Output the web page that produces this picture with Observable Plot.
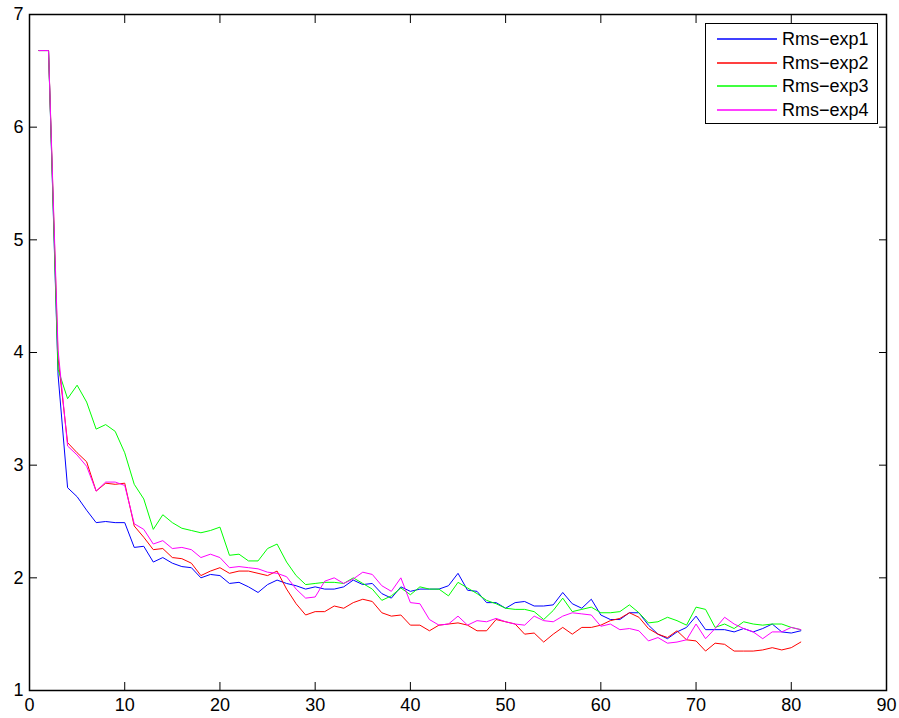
<!DOCTYPE html>
<html>
<head>
<meta charset="utf-8">
<script src="https://cdn.jsdelivr.net/npm/d3@7"></script>
<script src="https://cdn.jsdelivr.net/npm/@observablehq/plot@0.6"></script>
<style>
  body { margin: 0; background: #fff; font-family: "Liberation Sans", Arial, sans-serif; }
  #wrap { position: relative; width: 899px; height: 718px; }
  #legend { position: absolute; left: 705px; top: 23px; width: 173px; height: 101px;
            border: 1px solid #000; background: #fff; box-sizing: border-box; }
  #legend svg { position: absolute; left: 0; top: 0; }
  .lb { position: absolute; left: 76px; font-size: 18px; line-height: 20px; color: #000; white-space: nowrap; }
</style>
</head>
<body>
<div id="wrap"><div id="chart"></div><div id="legend"></div></div>
<script>
const seriesNames = ["Rms−exp1", "Rms−exp2", "Rms−exp3", "Rms−exp4"];
const seriesColors = ["#0000ff", "#ff0000", "#00ff00", "#ff00ff"];
const iterations = d3.range(1, 82);
const xTicks = [0, 10, 20, 30, 40, 50, 60, 70, 80, 90];
const yTicks = [1, 2, 3, 4, 5, 6, 7];

const exp1 = [6.68, 6.68, 3.80, 2.80, 2.72, 2.60, 2.49, 2.50, 2.49, 2.49,
  2.27, 2.28, 2.14, 2.18, 2.13, 2.10, 2.09, 2.00, 2.03, 2.02,
  1.95, 1.96, 1.92, 1.87, 1.94, 1.98, 1.95, 1.93, 1.90, 1.92,
  1.90, 1.90, 1.92, 1.98, 1.94, 1.95, 1.86, 1.82, 1.92, 1.88,
  1.90, 1.90, 1.90, 1.93, 2.04, 1.89, 1.88, 1.78, 1.78, 1.73,
  1.78, 1.79, 1.75, 1.75, 1.76, 1.87, 1.77, 1.73, 1.81, 1.67,
  1.63, 1.63, 1.69, 1.69, 1.58, 1.50, 1.46, 1.52, 1.56, 1.66,
  1.54, 1.54, 1.54, 1.52, 1.55, 1.52, 1.55, 1.59, 1.52, 1.51, 1.53];
const exp2 = [6.68, 6.68, 3.95, 3.20, 3.11, 3.03, 2.77, 2.84, 2.83, 2.84,
  2.46, 2.36, 2.25, 2.26, 2.18, 2.17, 2.13, 2.02, 2.06, 2.09,
  2.04, 2.06, 2.06, 2.04, 2.02, 2.06, 1.90, 1.77, 1.67, 1.70,
  1.70, 1.75, 1.73, 1.78, 1.81, 1.79, 1.69, 1.66, 1.67, 1.58,
  1.58, 1.53, 1.58, 1.59, 1.60, 1.58, 1.53, 1.53, 1.63, 1.61,
  1.59, 1.50, 1.51, 1.43, 1.50, 1.56, 1.50, 1.56, 1.56, 1.58,
  1.62, 1.64, 1.69, 1.65, 1.55, 1.50, 1.47, 1.53, 1.45, 1.44,
  1.35, 1.42, 1.41, 1.35, 1.35, 1.35, 1.36, 1.38, 1.36, 1.38, 1.43];
const exp3 = [6.68, 6.68, 3.85, 3.59, 3.71, 3.56, 3.32, 3.36, 3.30, 3.11,
  2.83, 2.70, 2.43, 2.56, 2.49, 2.44, 2.42, 2.40, 2.42, 2.45,
  2.20, 2.21, 2.15, 2.15, 2.26, 2.30, 2.14, 2.02, 1.94, 1.95,
  1.96, 1.96, 1.95, 2.00, 1.95, 1.90, 1.80, 1.84, 1.91, 1.85,
  1.92, 1.90, 1.90, 1.84, 1.96, 1.91, 1.86, 1.80, 1.77, 1.73,
  1.72, 1.72, 1.70, 1.63, 1.71, 1.82, 1.70, 1.72, 1.74, 1.69,
  1.69, 1.70, 1.76, 1.69, 1.60, 1.61, 1.65, 1.62, 1.58, 1.74,
  1.72, 1.56, 1.59, 1.55, 1.61, 1.59, 1.58, 1.59, 1.59, 1.56, 1.54];
const exp4 = [6.68, 6.68, 4.02, 3.17, 3.09, 2.99, 2.77, 2.85, 2.85, 2.82,
  2.48, 2.43, 2.30, 2.33, 2.26, 2.27, 2.25, 2.18, 2.21, 2.18,
  2.09, 2.10, 2.09, 2.08, 2.05, 2.04, 2.01, 1.90, 1.82, 1.83,
  1.97, 2.00, 1.95, 1.99, 2.05, 2.03, 1.93, 1.88, 2.00, 1.78,
  1.77, 1.63, 1.58, 1.59, 1.66, 1.58, 1.62, 1.61, 1.64, 1.61,
  1.59, 1.58, 1.66, 1.62, 1.61, 1.66, 1.69, 1.68, 1.67, 1.57,
  1.59, 1.54, 1.55, 1.53, 1.44, 1.47, 1.42, 1.43, 1.45, 1.59,
  1.46, 1.55, 1.65, 1.59, 1.55, 1.52, 1.46, 1.52, 1.52, 1.56, 1.54];

const seriesValues = [exp1, exp2, exp3, exp4];
const rows = [];
seriesValues.forEach((vals, i) => {
  vals.forEach((v, j) => rows.push({series: seriesNames[i], iter: iterations[j], value: v}));
});

const chart = Plot.plot({
  width: 899,
  height: 718,
  marginLeft: 29,
  marginRight: 13,
  marginTop: 14,
  marginBottom: 28,
  x: {domain: [0, 90]},
  y: {domain: [1, 7]},
  color: {domain: seriesNames, range: seriesColors},
  style: {fontFamily: "'Liberation Sans', Arial, sans-serif", fontSize: "18px", color: "#000", background: "#fff"},
  marks: [
    Plot.line(rows, {x: "iter", y: "value", z: "series", stroke: "series", strokeWidth: 1}),
    Plot.axisX(xTicks, {anchor: "bottom", tickSize: -8, tickPadding: 16, label: null, stroke: "#000", tickFormat: d3.format("d")}),
    Plot.axisX(xTicks, {anchor: "top", tickSize: -8, label: null, stroke: "#000", fill: "none", tickFormat: () => ""}),
    Plot.axisY(yTicks, {anchor: "left", tickSize: -8, tickPadding: 14, label: null, stroke: "#000", tickFormat: d3.format("d")}),
    Plot.axisY(yTicks, {anchor: "right", tickSize: -8, label: null, stroke: "#000", fill: "none", tickFormat: () => ""}),
    Plot.frame({stroke: "#000", strokeWidth: 1.5})
  ]
});
document.getElementById("chart").appendChild(chart);

const legend = document.getElementById("legend");
const rowCenters = [15, 38.5, 62, 85.5];
const ns = "http://www.w3.org/2000/svg";
const sw = document.createElementNS(ns, "svg");
sw.setAttribute("width", "171");
sw.setAttribute("height", "99");
legend.appendChild(sw);
seriesNames.forEach((name, i) => {
  const ln = document.createElementNS(ns, "line");
  const yy = String(Math.round(rowCenters[i]));
  ln.setAttribute("x1", "11");
  ln.setAttribute("x2", "71");
  ln.setAttribute("y1", yy);
  ln.setAttribute("y2", yy);
  ln.setAttribute("stroke", seriesColors[i]);
  ln.setAttribute("stroke-width", "1.5");
  sw.appendChild(ln);
  const lb = document.createElement("div");
  lb.className = "lb";
  lb.style.top = (rowCenters[i] - 10) + "px";
  lb.textContent = name;
  legend.appendChild(lb);
});
</script>
</body>
</html>
